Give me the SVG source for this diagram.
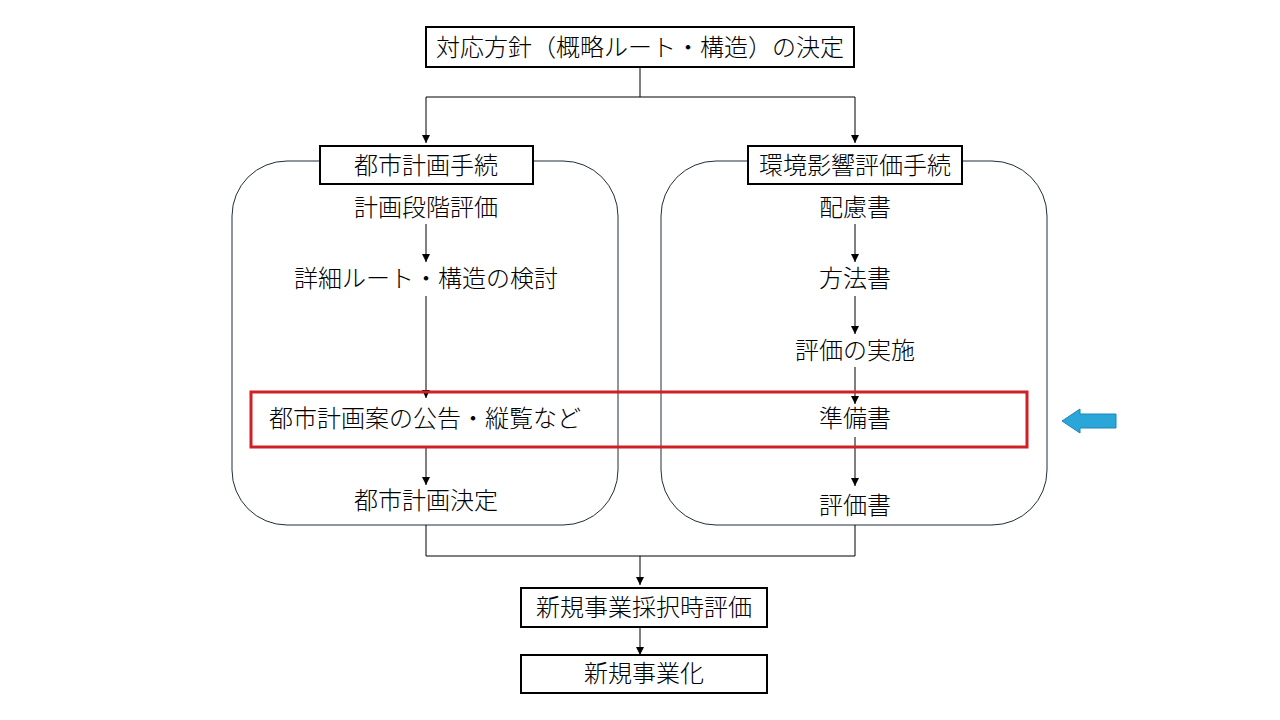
<svg xmlns="http://www.w3.org/2000/svg" width="1280" height="720" viewBox="0 0 1280 720">
<defs>
<marker id="ah" viewBox="0 0 10 10" refX="10" refY="5" markerWidth="8" markerHeight="8" markerUnits="userSpaceOnUse" orient="auto"><path d="M0,0L10,5L0,10z" fill="#000"/></marker>
<style>
text{font-family:"Noto Sans CJK JP",sans-serif;font-size:24px;font-weight:300;fill:#000;text-anchor:middle;dominant-baseline:central}
.box{fill:#fff;stroke:#000;stroke-width:2}
.grp{fill:#fff;stroke:#1f2d3a;stroke-width:1}
.c{fill:none;stroke:#000;stroke-width:1;marker-end:url(#ah)}
.l{fill:none;stroke:#000;stroke-width:1}
</style>
</defs>
<rect width="1280" height="720" fill="#fff"/>
<g id="groups">
<rect class="grp" x="232" y="161" width="386" height="364" rx="55"/>
<rect class="grp" x="661" y="161" width="386" height="364" rx="55"/>
</g>
<g id="connectors">
<path class="l" d="M640,67V97M426,97H855"/>
<path class="c" d="M426,97V143"/>
<path class="c" d="M855,97V143"/>
<path class="c" d="M426,224V262"/>
<path class="c" d="M426,296V398"/>
<path class="c" d="M426,446V485"/>
<path class="c" d="M855,224V262"/>
<path class="c" d="M855,296V334"/>
<path class="c" d="M855,367V404"/>
<path class="c" d="M855,437V486"/>
<path class="l" d="M426,525V556H855V525"/>
<path class="c" d="M640,556V585"/>
<path class="c" d="M640,627V655"/>
</g>
<g id="n_top"><rect class="box" x="426" y="27" width="428" height="40"/><text x="640" y="45">対応方針（概略ルート・構造）の決定</text></g>
<g id="n_toshi"><rect class="box" x="320" y="146" width="213" height="38"/><text x="426" y="163">都市計画手続</text></g>
<g id="n_kankyo"><rect class="box" x="748" y="146" width="214" height="38"/><text x="855" y="163">環境影響評価手続</text></g>
<g id="n_l1"><text x="426" y="205">計画段階評価</text></g>
<g id="n_l2"><text x="426" y="276">詳細ルート・構造の検討</text></g>
<g id="n_l3"><text x="425" y="416">都市計画案の公告・縦覧など</text></g>
<g id="n_l4"><text x="426" y="498">都市計画決定</text></g>
<g id="n_r1"><text x="855" y="205">配慮書</text></g>
<g id="n_r2"><text x="855" y="276">方法書</text></g>
<g id="n_r3"><text x="855" y="348">評価の実施</text></g>
<g id="n_r4"><text x="855" y="416">準備書</text></g>
<g id="n_r5"><text x="855" y="503">評価書</text></g>
<g id="n_saitaku"><rect class="box" x="521" y="588" width="246" height="39"/><text x="644" y="605">新規事業採択時評価</text></g>
<g id="n_jigyo"><rect class="box" x="521" y="655" width="246" height="38"/><text x="644" y="671">新規事業化</text></g>
<g id="highlight"><rect x="251" y="392" width="776" height="55" fill="none" stroke="#d01f25" stroke-width="3"/></g>
<g id="arrow"><path d="M1062,421L1080,409V414H1116V428H1080V433z" fill="#2aa6d8" stroke="#1b86b6" stroke-width="1"/></g>
</svg>
